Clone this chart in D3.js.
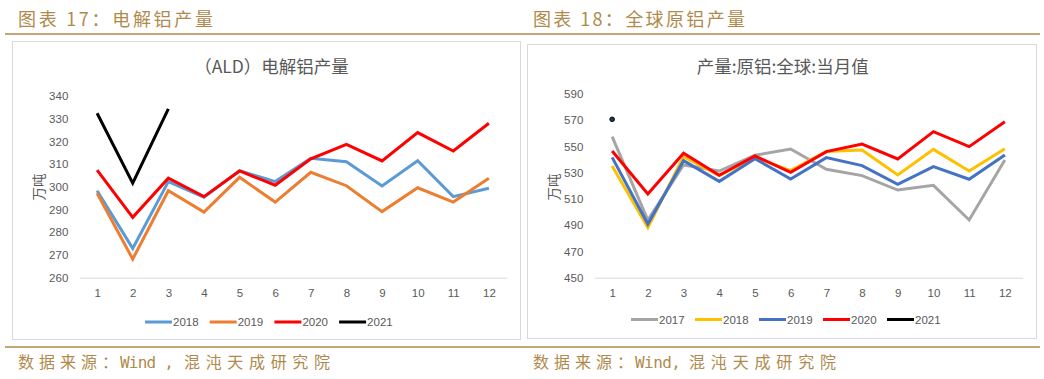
<!DOCTYPE html>
<html>
<head>
<meta charset="utf-8">
<script src="https://cdn.jsdelivr.net/npm/d3@7"></script>
<style>
  html, body { margin: 0; padding: 0; background: #ffffff; }
  svg { display: block; }
</style>
</head>
<body>
<svg id="chart" width="1044" height="379"></svg>
<script>
// ---------- data ----------
const months = ["1","2","3","4","5","6","7","8","9","10","11","12"];

// Chart 17: (ALD) electrolytic aluminium output, 10k tonnes
const ald2018 = [298.3, 272.9, 302.3, 295.4, 307.1, 302.3, 312.6, 311.1, 300.4, 311.5, 295.7, 299.4];
const ald2019 = [297.2, 268.2, 298.3, 288.9, 304.2, 293.3, 306.4, 300.5, 289.1, 299.6, 293.3, 303.8];
const ald2020 = [307.4, 286.6, 303.8, 295.7, 307.0, 300.7, 312.3, 318.7, 311.4, 323.9, 315.8, 328.0];
const ald2021 = [332.4, 301.6, 334.3];
const aldTicks = [260, 270, 280, 290, 300, 310, 320, 330, 340];

// Chart 18: global primary aluminium output, 10k tonnes
const glb2017 = [557.5, 494.0, 535.9, 531.3, 543.3, 548.1, 532.6, 527.8, 516.8, 520.4, 494.0, 539.7];
const glb2018 = [535.1, 488.1, 542.3, 527.8, 541.7, 531.6, 546.1, 547.3, 528.3, 547.8, 531.3, 548.3];
const glb2019 = [541.7, 490.9, 539.2, 523.4, 540.7, 525.2, 541.5, 535.4, 521.2, 534.6, 525.0, 543.5];
const glb2020 = [546.6, 513.8, 544.8, 528.0, 542.8, 530.3, 546.1, 551.9, 540.5, 561.3, 549.9, 568.9];
const glb2021 = [570.7];
const glbTicks = [450, 470, 490, 510, 530, 550, 570, 590];

const leftSeries = [
  {name: "2018", values: ald2018, color: "#5b9bd5"},
  {name: "2019", values: ald2019, color: "#ed7d31"},
  {name: "2020", values: ald2020, color: "#ff0000"},
  {name: "2021", values: ald2021, color: "#000000"}
];
const rightSeries = [
  {name: "2017", values: glb2017, color: "#a5a5a5"},
  {name: "2018", values: glb2018, color: "#ffc000"},
  {name: "2019", values: glb2019, color: "#4472c4"},
  {name: "2020", values: glb2020, color: "#ff0000"},
  {name: "2021", values: glb2021, color: "#000000"}
];

// ---------- drawing ----------
const svg = d3.select("#chart");
const gold = "#b08a4c";
const textGray = "#595959";
const cjk = "'Noto Sans CJK SC', 'Noto Sans', sans-serif";
const num = "'Liberation Sans', Arial, sans-serif";
const mono = "'DejaVu Sans Mono', 'Liberation Mono', monospace";

// header rule + footer rule
svg.append("line").attr("x1", 5).attr("x2", 1040).attr("y1", 34).attr("y2", 34)
  .attr("stroke", gold).attr("stroke-width", 1.5);
svg.append("line").attr("x1", 5).attr("x2", 1040).attr("y1", 347).attr("y2", 347)
  .attr("stroke", gold).attr("stroke-width", 1.5);

function header(x, txt, len) {
  svg.append("text").attr("x", x).attr("y", 26)
    .attr("font-family", cjk).attr("font-size", 18).attr("fill", gold)
    .attr("textLength", len).attr("lengthAdjust", "spacing")
    .text(txt);
}
header(18, "图表 17：电解铝产量", 195);
header(533, "图表 18：全球原铝产量", 212);

function footer(parts) {
  const t = svg.append("text").attr("y", 368).attr("font-size", 16).attr("fill", gold);
  parts.forEach(p => {
    t.append("tspan").attr("x", p[0]).attr("font-family", p[3] ? mono : cjk)
      .attr("textLength", p[2]).attr("lengthAdjust", "spacing").text(p[1]);
  });
}
footer([[18, "数据来源：", 100, false], [120, "Wind ,", 54, true], [184, "混沌天成研究院", 146, false]]);
footer([[533, "数据来源：", 100, false], [635, "Wind,", 46, true], [689, "混沌天成研究院", 147, false]]);

function panel(cfg) {
  const g = svg.append("g");
  // frame
  g.append("rect").attr("x", cfg.box[0] + 0.5).attr("y", cfg.box[1] + 0.5)
    .attr("width", cfg.box[2] - cfg.box[0]).attr("height", cfg.box[3] - cfg.box[1])
    .attr("fill", "#ffffff").attr("stroke", "#d9d9d9").attr("stroke-width", 1);

  const x = d3.scalePoint().domain(months).range([cfg.x0, cfg.x1]).padding(0.5);
  const y = d3.scaleLinear().domain([cfg.ticks[0], cfg.ticks[cfg.ticks.length - 1]]).range([cfg.yBottom, cfg.yTop]);

  // title
  g.append("text").attr("x", cfg.titleX).attr("y", 73).attr("text-anchor", "middle")
    .attr("font-family", cjk).attr("font-size", 17.5).attr("fill", textGray)
    .text(cfg.title);

  // y axis labels
  const ya = g.append("g").attr("transform", `translate(${cfg.x0 - 11},0)`)
    .call(d3.axisLeft(y).tickValues(cfg.ticks).tickSize(0).tickPadding(0));
  ya.select(".domain").remove();
  ya.selectAll("text").attr("font-family", num).attr("font-size", 11.5).attr("fill", textGray);

  // x axis
  const xa = g.append("g").attr("transform", `translate(0,${cfg.yBottom})`)
    .call(d3.axisBottom(x).tickSize(0).tickPadding(11));
  xa.select(".domain").attr("stroke", "#d9d9d9").attr("stroke-width", 1);
  xa.selectAll("text").attr("font-family", num).attr("font-size", 11.5).attr("fill", textGray);

  // y axis title
  g.append("text").attr("transform", `translate(${cfg.yTitleX},187) rotate(-90)`)
    .attr("text-anchor", "middle").attr("dominant-baseline", "central")
    .attr("font-family", cjk).attr("font-size", 13.5).attr("fill", textGray)
    .text("万吨");

  // series
  const line = d3.line().x((d, i) => x(months[i])).y(d => y(d));
  cfg.series.forEach(s => {
    if (s.values.length > 1) {
      g.append("path").datum(s.values).attr("d", line)
        .attr("fill", "none").attr("stroke", s.color).attr("stroke-width", 3)
        .attr("stroke-linejoin", "miter").attr("stroke-linecap", "butt");
    } else {
      g.selectAll(null).data(s.values).enter().append("circle")
        .attr("cx", (d, i) => x(months[i])).attr("cy", d => y(d)).attr("r", 2.3)
        .attr("fill", "#1f3864").attr("stroke", "#000000").attr("stroke-width", 1);
    }
  });

  // legend
  const lg = g.append("g");
  cfg.series.forEach((s, i) => {
    const lx = cfg.legendX + i * cfg.legendStep;
    lg.append("line").attr("x1", lx).attr("x2", lx + 27).attr("y1", cfg.legendY).attr("y2", cfg.legendY)
      .attr("stroke", s.color).attr("stroke-width", 3);
    lg.append("text").attr("x", lx + 28).attr("y", cfg.legendY).attr("dominant-baseline", "central")
      .attr("font-family", num).attr("font-size", 11.5).attr("fill", textGray).text(s.name);
  });
}

panel({
  box: [12, 41, 520, 339],
  x0: 79.3, x1: 506.7, yBottom: 277.7, yTop: 96,
  ticks: aldTicks, series: leftSeries,
  title: "（ALD）电解铝产量", titleX: 271.5, yTitleX: 38,
  legendX: 145, legendStep: 64.7, legendY: 322
});
panel({
  box: [527, 44, 1036, 338],
  x0: 594.3, x1: 1022.7, yBottom: 277.7, yTop: 94,
  ticks: glbTicks, series: rightSeries,
  title: "产量:原铝:全球:当月值", titleX: 782.7, yTitleX: 553,
  legendX: 631, legendStep: 64, legendY: 319.5
});
</script>
</body>
</html>
